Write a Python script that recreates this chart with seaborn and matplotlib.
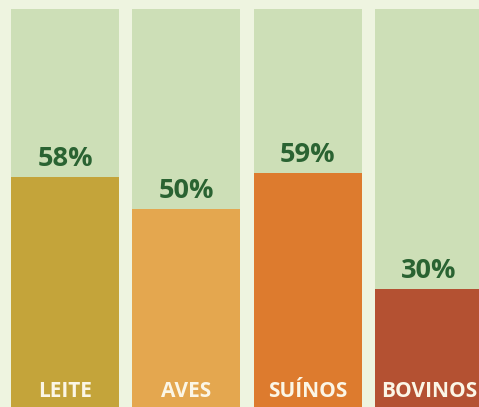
import matplotlib
matplotlib.use("Agg")
import matplotlib.pyplot as plt
import seaborn as sns
import pandas as pd

# dados
categorias = ['LEITE', 'AVES', 'SUÍNOS', 'BOVINOS']
valores = [58, 50, 59, 30]
cores = ['#c4a43a', '#e4a74f', '#dd7b2e', '#b45132']

df = pd.DataFrame({'cat': categorias, 'valor': valores, 'total': [100] * len(categorias)})

sns.set_theme(style="white")
plt.rcParams['font.family'] = ['Open Sans', 'DejaVu Sans']

fig = plt.figure(figsize=(4.79, 4.07), dpi=100)
fig.patch.set_facecolor('#eef4e0')
ax = fig.add_axes([0, 0, 1, 1])
ax.set_facecolor('#eef4e0')

# barra de fundo (100%)
sns.barplot(data=df, x='cat', y='total', color='#cddfb7', width=0.89,
            saturation=1, linewidth=0, edgecolor='none', ax=ax)
# barra de valor
sns.barplot(data=df, x='cat', y='valor', hue='cat', palette=cores, width=0.89,
            saturation=1, linewidth=0, edgecolor='none', legend=False, ax=ax)

for i, (cat, v) in enumerate(zip(categorias, valores)):
    ax.text(i, v + 1.3, f"{v}%", ha='center', va='bottom', fontsize=19.5,
            fontweight='bold', color='#2a6332')
    ax.text(i, 1.7, cat, ha='center', va='bottom', fontsize=15,
            fontweight='bold', color='#fbf6e6')

ax.set_xlim(-0.536, 3.413)
ax.set_ylim(0.5, 102.25)
ax.axis('off')

plt.savefig('out.png', dpi=100, facecolor=fig.get_facecolor())
plt.close()
